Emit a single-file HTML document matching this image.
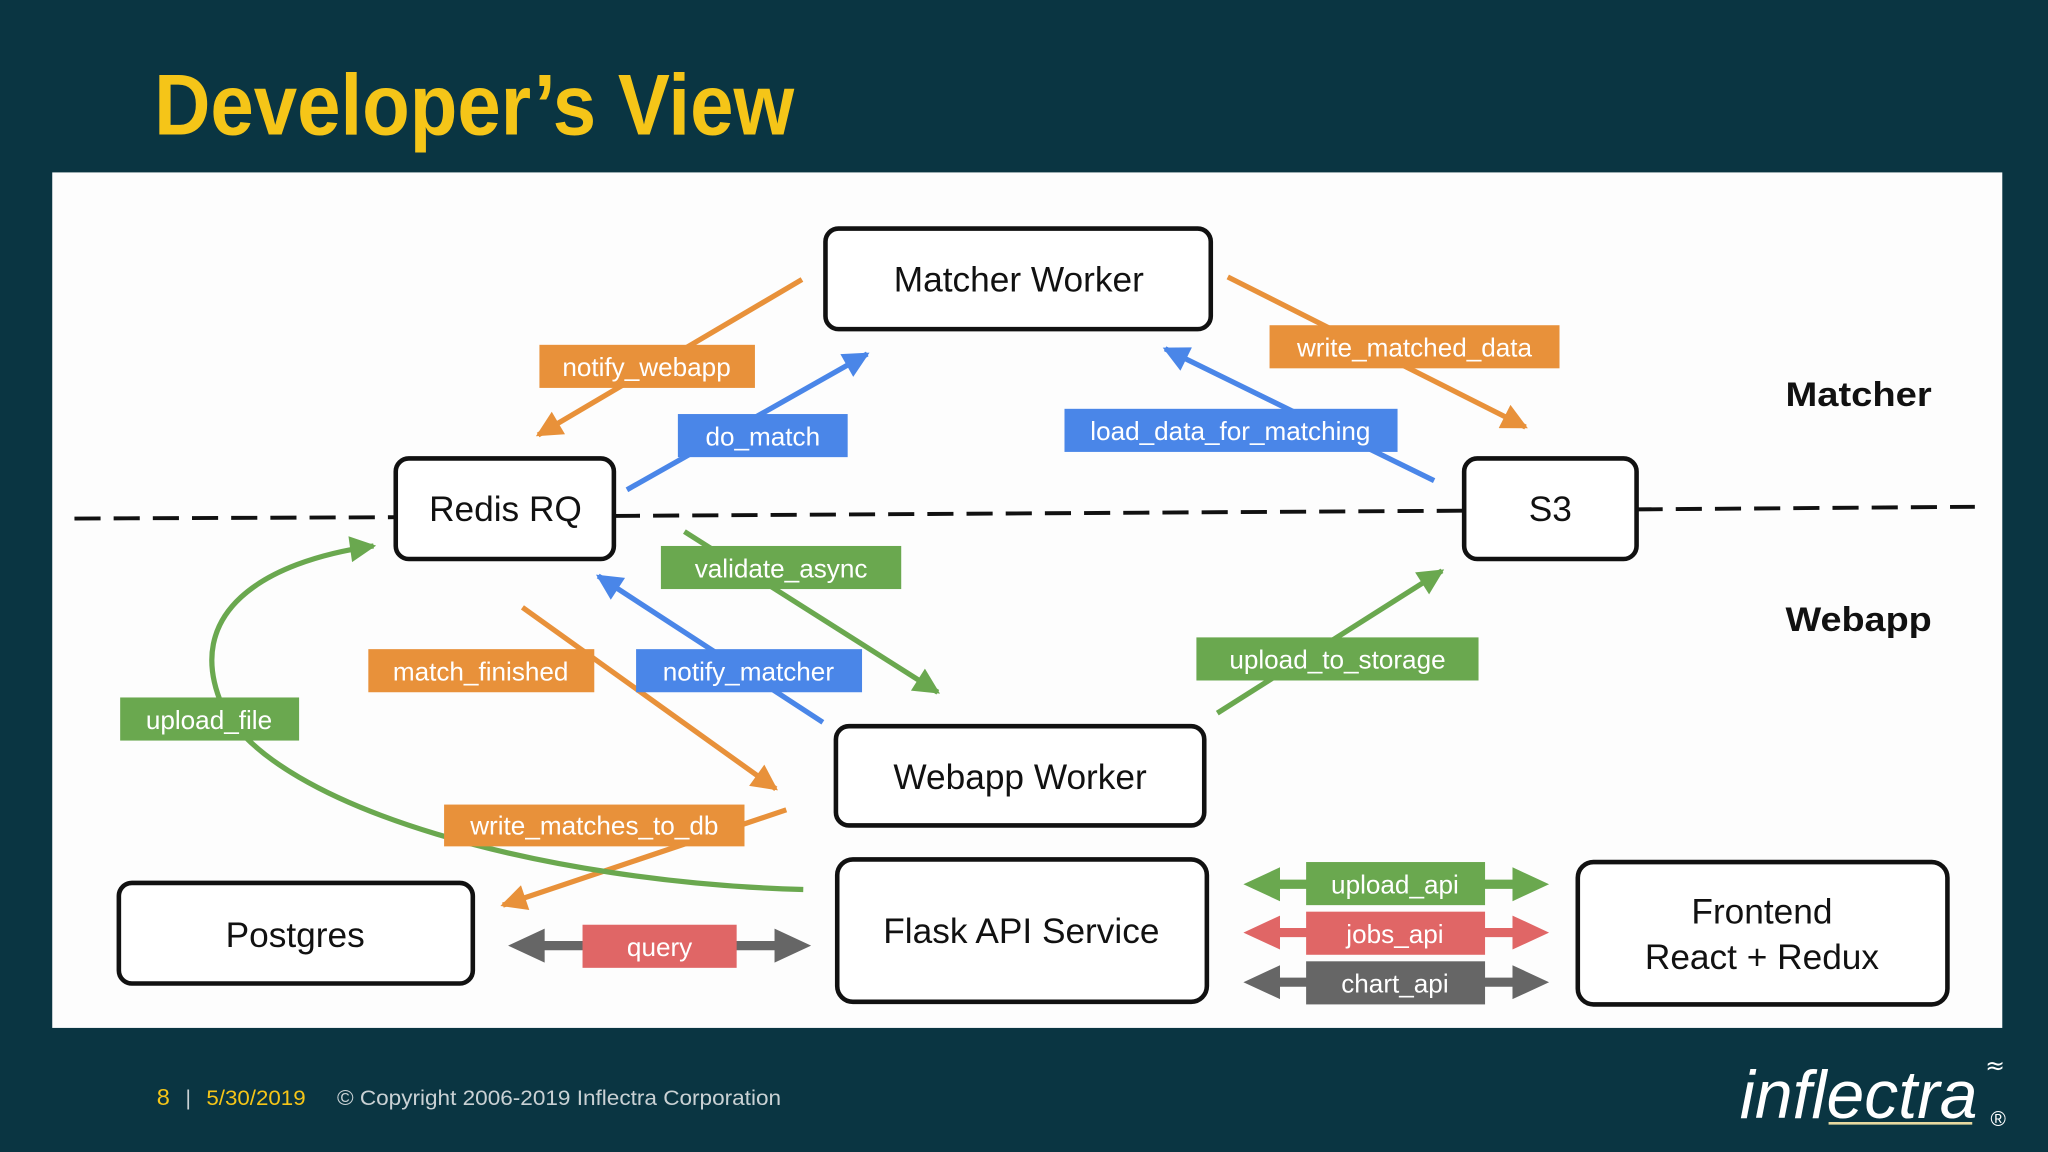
<!DOCTYPE html>
<html><head><meta charset="utf-8"><style>
html,body{margin:0;padding:0;background:#0a3542;}
svg{display:block;}
</style></head><body>
<svg width="2048" height="1152" viewBox="0 0 1568 882" xmlns="http://www.w3.org/2000/svg">
<defs>
<marker id="ao" viewBox="0 0 10 10" refX="9" refY="5" markerWidth="24" markerHeight="20" markerUnits="userSpaceOnUse" orient="auto"><path d="M0,0L10,5L0,10z" fill="#e8913a"/></marker>
<marker id="ab" viewBox="0 0 10 10" refX="9" refY="5" markerWidth="24" markerHeight="20" markerUnits="userSpaceOnUse" orient="auto"><path d="M0,0L10,5L0,10z" fill="#4a86e8"/></marker>
<marker id="ag" viewBox="0 0 10 10" refX="9" refY="5" markerWidth="24" markerHeight="20" markerUnits="userSpaceOnUse" orient="auto"><path d="M0,0L10,5L0,10z" fill="#6aa84f"/></marker>
</defs>
<rect width="1568" height="882" fill="#0a3542"/>
<text x="118" y="103" font-family="Liberation Sans, sans-serif" font-weight="bold" font-size="66" fill="#f5c518" textLength="490" lengthAdjust="spacingAndGlyphs">Developer’s View</text>
<rect x="40" y="132" width="1493" height="655" fill="#fdfdfd"/>

<line x1="57" y1="397" x2="303" y2="396" stroke="#111" stroke-width="3" stroke-dasharray="20,10"/>
<line x1="470" y1="395" x2="1121" y2="391" stroke="#111" stroke-width="3" stroke-dasharray="20,10"/>
<line x1="1253" y1="390" x2="1512" y2="388" stroke="#111" stroke-width="3" stroke-dasharray="20,10"/>

<g font-family="Liberation Sans, sans-serif" font-weight="bold" font-size="26" fill="#111" text-anchor="middle">
<text x="1423" y="311" textLength="112" lengthAdjust="spacingAndGlyphs">Matcher</text>
<text x="1423" y="483" textLength="112" lengthAdjust="spacingAndGlyphs">Webapp</text>
</g>

<g stroke-width="4" fill="none">
<line x1="614" y1="214" x2="412" y2="333" stroke="#e8913a" marker-end="url(#ao)"/>
<line x1="480" y1="375" x2="664" y2="271" stroke="#4a86e8" marker-end="url(#ab)"/>
<line x1="940" y1="212" x2="1168" y2="327" stroke="#e8913a" marker-end="url(#ao)"/>
<line x1="1098" y1="368" x2="892" y2="267" stroke="#4a86e8" marker-end="url(#ab)"/>
<line x1="524" y1="407" x2="718" y2="530" stroke="#6aa84f" marker-end="url(#ag)"/>
<line x1="630" y1="553" x2="458" y2="441" stroke="#4a86e8" marker-end="url(#ab)"/>
<line x1="400" y1="465" x2="594" y2="604" stroke="#e8913a" marker-end="url(#ao)"/>
<line x1="932" y1="546" x2="1104" y2="437" stroke="#6aa84f" marker-end="url(#ag)"/>
<line x1="602" y1="620" x2="385" y2="693" stroke="#e8913a" marker-end="url(#ao)"/>
<path d="M615,681 C420,676 210,620 170,540 C140,470 200,430 286,418" stroke="#6aa84f" marker-end="url(#ag)"/>
</g>

<g>
<line x1="405" y1="724" x2="605" y2="724" stroke="#666" stroke-width="7"/>
<path d="M389,724 L417,711 L417,737z M621,724 L593,711 L593,737z" fill="#666"/>
<line x1="968" y1="677" x2="1170" y2="677" stroke="#6aa84f" stroke-width="7"/>
<path d="M952,677 L980,664 L980,690z M1186,677 L1158,664 L1158,690z" fill="#6aa84f"/>
<line x1="968" y1="714" x2="1170" y2="714" stroke="#e06666" stroke-width="7"/>
<path d="M952,714 L980,701 L980,727z M1186,714 L1158,701 L1158,727z" fill="#e06666"/>
<line x1="968" y1="752" x2="1170" y2="752" stroke="#666" stroke-width="7"/>
<path d="M952,752 L980,739 L980,765z M1186,752 L1158,739 L1158,765z" fill="#666"/>
</g>

<g font-family="Liberation Sans, sans-serif" font-size="20" fill="#fff" text-anchor="middle">
<rect x="413" y="264" width="165" height="33" fill="#e8913a"/><text x="495" y="288">notify_webapp</text>
<rect x="519" y="317" width="130" height="33" fill="#4a86e8"/><text x="584" y="341">do_match</text>
<rect x="972" y="249" width="222" height="33" fill="#e8913a"/><text x="1083" y="273">write_matched_data</text>
<rect x="815" y="313" width="255" height="33" fill="#4a86e8"/><text x="942" y="337">load_data_for_matching</text>
<rect x="506" y="418" width="184" height="33" fill="#6aa84f"/><text x="598" y="442">validate_async</text>
<rect x="487" y="497" width="173" height="33" fill="#4a86e8"/><text x="573" y="521">notify_matcher</text>
<rect x="282" y="497" width="173" height="33" fill="#e8913a"/><text x="368" y="521">match_finished</text>
<rect x="916" y="488" width="216" height="33" fill="#6aa84f"/><text x="1024" y="512">upload_to_storage</text>
<rect x="92" y="534" width="137" height="33" fill="#6aa84f"/><text x="160" y="558">upload_file</text>
<rect x="340" y="616" width="230" height="32" fill="#e8913a"/><text x="455" y="639">write_matches_to_db</text>
<rect x="446" y="708" width="118" height="33" fill="#e06666"/><text x="505" y="732">query</text>
<rect x="1000" y="660" width="137" height="33" fill="#6aa84f"/><text x="1068" y="684">upload_api</text>
<rect x="1000" y="698" width="137" height="33" fill="#e06666"/><text x="1068" y="722">jobs_api</text>
<rect x="1000" y="736" width="137" height="33" fill="#666"/><text x="1068" y="760">chart_api</text>
</g>

<g fill="#fff" stroke="#111" stroke-width="3.5">
<rect x="632" y="175" width="295" height="77" rx="10"/>
<rect x="303" y="351" width="167" height="77" rx="10"/>
<rect x="1121" y="351" width="132" height="77" rx="10"/>
<rect x="640" y="556" width="282" height="76" rx="10"/>
<rect x="641" y="658" width="283" height="109" rx="12"/>
<rect x="91" y="676" width="271" height="77" rx="10"/>
<rect x="1208" y="660" width="283" height="109" rx="12"/>
</g>
<g font-family="Liberation Sans, sans-serif" font-size="27" fill="#111" text-anchor="middle">
<text x="780" y="223">Matcher Worker</text>
<text x="387" y="399">Redis RQ</text>
<text x="1187" y="399">S3</text>
<text x="781" y="604">Webapp Worker</text>
<text x="782" y="722">Flask API Service</text>
<text x="226" y="725">Postgres</text>
<text x="1349" y="707">Frontend</text>
<text x="1349" y="742">React + Redux</text>
</g>

<g font-family="Liberation Sans, sans-serif" font-size="16">
<text x="120" y="846" fill="#f5c518" font-size="18">8</text>
<text x="142" y="846" fill="#c9d1d4">|</text>
<text x="158" y="846" fill="#f5c518" textLength="76" lengthAdjust="spacingAndGlyphs">5/30/2019</text>
<text x="258" y="846" fill="#c9d1d4" textLength="340" lengthAdjust="spacingAndGlyphs">© Copyright 2006-2019 Inflectra Corporation</text>
</g>
<text x="1332" y="856" font-family="Liberation Sans, sans-serif" font-style="italic" font-size="52" fill="#fff" textLength="182" lengthAdjust="spacingAndGlyphs">inflectra</text>
<line x1="1400" y1="860" x2="1510" y2="860" stroke="#e8d9a0" stroke-width="2"/>
<text x="1524" y="862" font-family="Liberation Sans, sans-serif" font-size="16" fill="#fff">®</text>
<text x="1520" y="822" font-family="DejaVu Sans, sans-serif" font-size="18" fill="#fff">≈</text>
</svg>
</body></html>
